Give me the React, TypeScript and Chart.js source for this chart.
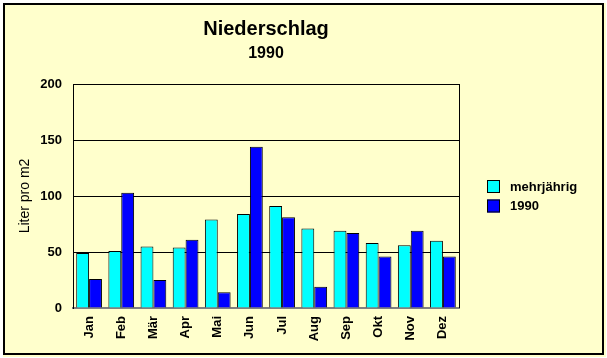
import React, { useEffect, useRef } from "react";
import { Chart, registerables } from "chart.js";

Chart.register(...registerables);

const months = ["Jan", "Feb", "Mär", "Apr", "Mai", "Jun", "Jul", "Aug", "Sep", "Okt", "Nov", "Dez"];
const mehrjaehrig = [49, 51, 55, 54, 79, 84, 91, 71, 69, 58, 56, 60];
const werte1990 = [26, 103, 25, 61, 14, 144, 81, 19, 67, 46, 69, 46];
const yTicks = [0, 50, 100, 150, 200];

const FONT = "'Liberation Sans', Arial, Helvetica, sans-serif";

const framePlugin = {
  id: "frame",
  beforeDraw(chart: any) {
    const { ctx, width, height } = chart;
    ctx.save();
    ctx.fillStyle = "#ffffff";
    ctx.fillRect(0, 0, width, height);
    ctx.fillStyle = "#FFFFCC";
    ctx.fillRect(3, 3, width - 4, height - 4);
    ctx.strokeStyle = "#000000";
    ctx.lineWidth = 2;
    ctx.strokeRect(4, 4, width - 8, height - 8);
    ctx.restore();
  },
  beforeDatasetsDraw(chart: any) {
    const { ctx, chartArea } = chart;
    ctx.save();
    ctx.strokeStyle = "#000000";
    ctx.lineWidth = 1;
    ctx.beginPath();
    const x = Math.round(chartArea.right) + 0.5;
    ctx.moveTo(x, Math.round(chartArea.top));
    ctx.lineTo(x, Math.round(chartArea.bottom));
    ctx.stroke();
    ctx.restore();
  },
  afterDraw(chart: any) {
    const { ctx } = chart;
    ctx.save();
    chart.data.datasets.forEach((ds: any, i: number) => {
      const bx = 487;
      const by = 180 + i * 19.5;
      ctx.fillStyle = ds.backgroundColor;
      ctx.fillRect(bx, by, 13, 13);
      ctx.strokeStyle = "#000";
      ctx.lineWidth = 1;
      ctx.strokeRect(bx + 0.5, by + 0.5, 12, 12);
      ctx.fillStyle = "#000";
      ctx.font = `bold 13px ${FONT}`;
      ctx.textBaseline = "middle";
      ctx.textAlign = "left";
      ctx.fillText(ds.label, 510, by + 7);
    });
    ctx.restore();
  },
};

export default function App() {
  const ref = useRef<HTMLCanvasElement | null>(null);
  useEffect(() => {
    document.body.style.margin = "0";
    const canvas = ref.current;
    if (!canvas) return;
    const chart = new Chart(canvas, {
      type: "bar",
      data: {
        labels: months,
        datasets: [
          {
            label: "mehrjährig",
            data: mehrjaehrig,
            backgroundColor: "#00FFFF",
            borderColor: "#000000",
            borderWidth: 1,
          },
          {
            label: "1990",
            data: werte1990,
            backgroundColor: "#0000FF",
            borderColor: "#000000",
            borderWidth: 1,
          },
        ],
      },
      options: {
        responsive: false,
        devicePixelRatio: 1,
        animation: false,
        layout: { padding: { left: 0, right: 148, top: 0, bottom: 0 } },
        datasets: { bar: { categoryPercentage: 0.8, barPercentage: 1 } },
        plugins: {
          legend: { display: false },
          tooltip: { enabled: false },
          title: {
            display: true,
            text: "Niederschlag",
            color: "#000",
            fullSize: false,
            font: { family: FONT, size: 20, weight: "bold", lineHeight: 1.2 },
            padding: { top: 17.5, bottom: 2 },
          },
          subtitle: {
            display: true,
            text: "1990",
            color: "#000",
            fullSize: false,
            font: { family: FONT, size: 16, weight: "bold", lineHeight: 1.2 },
            padding: { top: 0, bottom: 21.3 },
          },
        },
        scales: {
          x: {
            afterFit(scale: any) {
              scale.height = 50;
            },
            grid: { display: false, drawTicks: false },
            border: { display: true, color: "#808080", width: 2 },
            ticks: {
              color: "#000",
              font: { family: FONT, size: 13, weight: "bold" },
              minRotation: 90,
              maxRotation: 90,
              autoSkip: false,
              padding: 8,
            },
          },
          y: {
            min: 0,
            max: 200,
            afterFit(scale: any) {
              scale.width = 73;
            },
            afterBuildTicks(scale: any) {
              scale.ticks = yTicks.map((v) => ({ value: v }));
            },
            grid: {
              drawTicks: false,
              color: (c: any) => (c.tick && c.tick.value === 0 ? "rgba(0,0,0,0)" : "#000000"),
              lineWidth: 1,
            },
            border: { display: true, color: "#000000", width: 1 },
            ticks: {
              color: "#000",
              font: { family: FONT, size: 13, weight: "bold" },
              padding: 11,
            },
            title: {
              display: true,
              text: "Liter pro m2",
              color: "#000",
              font: { family: FONT, size: 14, weight: "normal", lineHeight: 1.2 },
              padding: { top: 16.6, bottom: 0 },
            },
          },
        },
      },
      plugins: [framePlugin],
    } as any);
    return () => chart.destroy();
  }, []);
  return (
    <div style={{ width: 607, height: 358 }}>
      <canvas ref={ref} width={607} height={358} style={{ display: "block" }} />
    </div>
  );
}
